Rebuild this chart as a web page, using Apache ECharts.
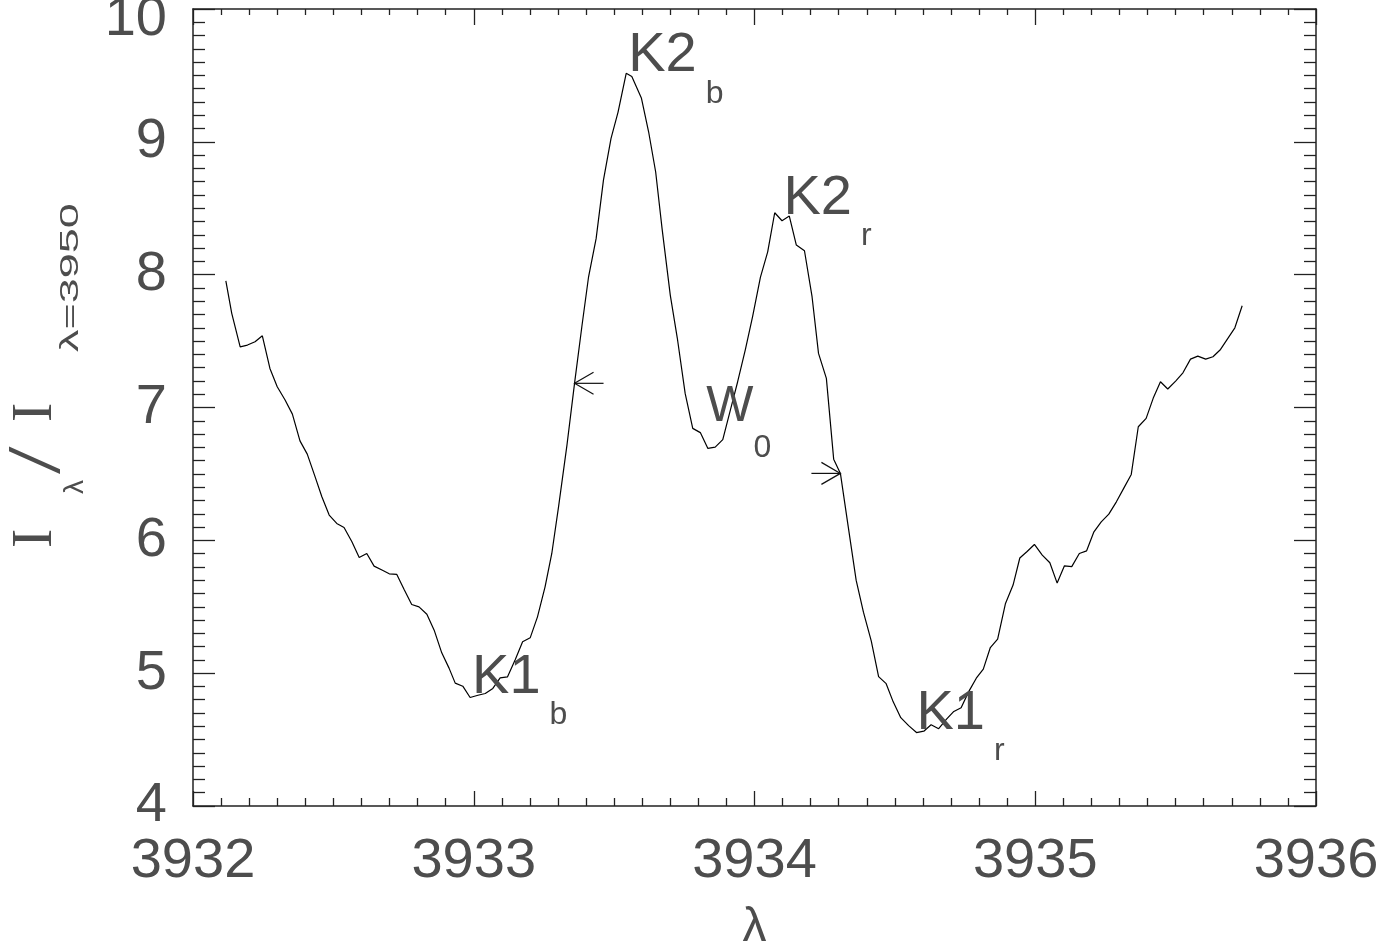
<!DOCTYPE html>
<html>
<head>
<meta charset="utf-8">
<script src="https://cdn.jsdelivr.net/npm/echarts@6/dist/echarts.min.js"></script>
<style>
html,body{margin:0;padding:0;background:#fff;}
#chart{width:1394px;height:948px;}
</style>
</head>
<body>
<div id="chart"></div>
<script>
// ---- data ----
const wavelength = [
  3932.117,3932.138,3932.168,3932.194,3932.221,3932.247,3932.274,3932.300,3932.328,3932.354,
  3932.381,3932.407,3932.435,3932.459,3932.485,3932.512,3932.538,3932.566,3932.592,3932.619,
  3932.645,3932.673,3932.699,3932.726,3932.752,3932.779,3932.805,3932.833,3932.859,3932.886,
  3932.912,3932.934,3932.961,3932.987,3933.015,3933.041,3933.068,3933.094,3933.120,3933.148,
  3933.174,3933.201,3933.227,3933.254,3933.278,3933.302,3933.332,3933.359,3933.385,3933.409,
  3933.436,3933.462,3933.489,3933.514,3933.543,3933.563,3933.597,3933.623,3933.648,3933.671,
  3933.700,3933.725,3933.753,3933.780,3933.807,3933.834,3933.860,3933.887,3933.914,3933.940,
  3933.967,3933.993,3934.021,3934.047,3934.072,3934.098,3934.124,3934.149,3934.178,3934.205,
  3934.228,3934.256,3934.282,3934.306,3934.333,3934.362,3934.388,3934.416,3934.442,3934.469,
  3934.494,3934.521,3934.549,3934.577,3934.603,3934.629,3934.656,3934.684,3934.710,3934.736,
  3934.763,3934.790,3934.815,3934.840,3934.866,3934.894,3934.921,3934.945,3934.971,3934.997,
  3935.025,3935.052,3935.078,3935.104,3935.130,3935.157,3935.183,3935.209,3935.235,3935.262,
  3935.289,3935.315,3935.342,3935.367,3935.395,3935.420,3935.446,3935.472,3935.500,3935.526,
  3935.553,3935.579,3935.607,3935.633,3935.660,3935.686,3935.711,3935.737
];
const intensity = [
  7.954,7.709,7.457,7.470,7.495,7.540,7.294,7.156,7.056,6.950,
  6.749,6.649,6.478,6.328,6.190,6.127,6.097,5.989,5.871,5.901,
  5.806,5.776,5.748,5.743,5.630,5.517,5.499,5.444,5.324,5.153,
  5.038,4.925,4.902,4.817,4.834,4.847,4.885,4.965,4.972,5.103,
  5.236,5.266,5.424,5.650,5.901,6.252,6.717,7.182,7.608,7.984,
  8.273,8.712,9.026,9.224,9.516,9.492,9.330,9.074,8.773,8.343,
  7.846,7.523,7.106,6.843,6.811,6.692,6.702,6.758,6.980,7.194,
  7.432,7.683,7.980,8.172,8.466,8.406,8.441,8.223,8.180,7.834,
  7.407,7.219,6.611,6.504,6.114,5.700,5.459,5.241,4.974,4.921,
  4.784,4.665,4.605,4.553,4.563,4.612,4.582,4.654,4.712,4.740,
  4.861,4.962,5.030,5.193,5.256,5.525,5.663,5.867,5.916,5.969,
  5.889,5.831,5.678,5.808,5.802,5.901,5.921,6.064,6.139,6.197,
  6.290,6.391,6.496,6.855,6.918,7.069,7.194,7.139,7.199,7.261,
  7.364,7.387,7.364,7.382,7.437,7.520,7.600,7.766
];
const xTickValues = [3932, 3933, 3934, 3935, 3936];
const yTickValues = [4, 5, 6, 7, 8, 9, 10];

// feature labels: main text, subscript, anchor (left end of main text baseline) in data units
const featureMain = ['K2', 'K2', 'W', 'K1', 'K1'];
const featureSub  = ['b', 'r', '0', 'b', 'r'];
const featureX    = [3933.550, 3934.103, 3933.828, 3932.994, 3934.577];
const featureY    = [9.503, 8.431, 6.835, 4.827, 4.553];

// half-width arrows: tip position in data units and pointing direction (-1 left, +1 right)
const arrowX   = [3933.359, 3934.306];
const arrowY   = [7.182, 6.504];
const arrowDir = [-1, 1];

// ---- chart ----
const chart = echarts.init(document.getElementById('chart'), null, {renderer: 'canvas'});
const INK = '#222';
const TXT = '#4d4d4d';
const FONT = "'Liberation Sans', Arial, sans-serif";

const lineData = wavelength.map((w, i) => [w, intensity[i]]);
const featData = featureMain.map((m, i) => [featureX[i], featureY[i], i]);
const arrowData = arrowX.map((x, i) => [x, arrowY[i], arrowDir[i]]);

function xAxisBase(pos, showLabel, tickLen, minorLen) {
  return {
    type: 'value', position: pos, min: xTickValues[0], max: xTickValues[xTickValues.length - 1], interval: 1,
    axisLine: {show: true, onZero: false, lineStyle: {color: INK, width: 1.5}},
    axisTick: {show: true, inside: true, length: tickLen, lineStyle: {color: INK, width: 1.3}},
    minorTick: {show: true, splitNumber: 10, length: minorLen, lineStyle: {color: INK, width: 1.3}},
    splitLine: {show: false}, minorSplitLine: {show: false},
    axisLabel: {show: showLabel, margin: 28, fontSize: 56, fontFamily: FONT, color: TXT,
      formatter: v => String(v)},
  };
}
function yAxisBase(pos, showLabel) {
  return {
    type: 'value', position: pos, min: yTickValues[0], max: yTickValues[yTickValues.length - 1], interval: 1,
    axisLine: {show: true, onZero: false, lineStyle: {color: INK, width: 1.5}},
    axisTick: {show: true, inside: true, length: 22, lineStyle: {color: INK, width: 1.3}},
    minorTick: {show: true, splitNumber: 10, length: 12, lineStyle: {color: INK, width: 1.3}},
    splitLine: {show: false}, minorSplitLine: {show: false},
    axisLabel: {
      show: showLabel, margin: 26, fontSize: 56, fontFamily: FONT, color: TXT,
      formatter: v => (v === yTickValues[yTickValues.length - 1] ? '{top|' + v + '}' : String(v)),
      rich: {top: {fontSize: 56, fontFamily: FONT, color: TXT, padding: [22, 0, 0, 0]}}
    },
  };
}

const xb = xAxisBase('bottom', true, 15, 8);
xb.name = 'λ';
xb.nameLocation = 'middle';
xb.nameGap = 98;
xb.nameTextStyle = {fontSize: 48, fontFamily: FONT, color: TXT};
const xt = xAxisBase('top', false, 16, 6);

// y-axis title pieces (rotated group; local y measured downward from main baseline, +y = screen right)
function tpiece(str, x, baseY, size, family, extra) {
  const off = (family.indexOf('Serif') >= 0 ? 0.338 : 0.347) * size;
  return Object.assign({type: 'text', x: x, y: baseY - off,
    style: {text: str, font: size + "px " + family, fill: TXT, verticalAlign: 'middle', align: 'left'}}, extra || {});
}

const option = {
  animation: false,
  backgroundColor: '#fff',
  grid: {left: 193, right: 78, top: 9, bottom: 142, containLabel: false, outerBoundsMode: 'none'},
  xAxis: [xb, xt],
  yAxis: [yAxisBase('left', true), yAxisBase('right', false)],
  graphic: [{
    type: 'group', x: 55, y: 548, rotation: Math.PI / 2,
    children: [
      tpiece('I', 0, 0, 58, "'Liberation Serif'"),
      tpiece('λ', 54, 30, 28, "'Liberation Sans'"),
      tpiece('/', 74, 10, 76, "'Liberation Serif'", {scaleX: 1.3}),
      tpiece('I', 126, 0, 58, "'Liberation Serif'"),
      tpiece('λ=3950', 196, 26, 30, "'Liberation Sans'", {scaleX: 1.5, scaleY: 0.85})
    ]
  }],
  series: [
    {
      type: 'line', xAxisIndex: 0, yAxisIndex: 0, data: lineData, showSymbol: false, symbol: 'none',
      lineStyle: {color: '#000', width: 1.2}, z: 3
    },
    {
      type: 'custom', xAxisIndex: 0, yAxisIndex: 0, data: featData, z: 4, silent: true, clip: false,
      renderItem: (params, api) => {
        const p = api.coord([api.value(0), api.value(1)]);
        const i = api.value(2);
        const isW = featureMain[i] === 'W';
        return {
          type: 'text', x: p[0], y: p[1] - 47,
          style: {
            text: '{m|' + featureMain[i] + '}{s|' + featureSub[i] + '}',
            align: 'left', verticalAlign: 'top',
            rich: {
              m: {fontSize: isW ? 50 : 56, lineHeight: 56, fontFamily: FONT, fill: TXT, verticalAlign: 'top'},
              s: {fontSize: 32, lineHeight: 32, fontFamily: FONT, fill: TXT, verticalAlign: 'top', padding: [50, 0, 0, isW ? 0 : 9]}
            }
          }
        };
      }
    },
    {
      type: 'custom', xAxisIndex: 0, yAxisIndex: 0, data: arrowData, z: 4, silent: true, clip: false,
      renderItem: (params, api) => {
        const p = api.coord([api.value(0), api.value(1)]);
        const d = api.value(2);
        const st = {stroke: '#111', lineWidth: 1.2, fill: null};
        return {
          type: 'group',
          children: [
            {type: 'polyline', shape: {points: [[p[0] - d * 29, p[1]], [p[0], p[1]]]}, style: st},
            {type: 'polyline', shape: {points: [[p[0] - d * 19, p[1] - 11], [p[0], p[1]], [p[0] - d * 19, p[1] + 11]]}, style: st}
          ]
        };
      }
    }
  ]
};
chart.setOption(option);
</script>
</body>
</html>
